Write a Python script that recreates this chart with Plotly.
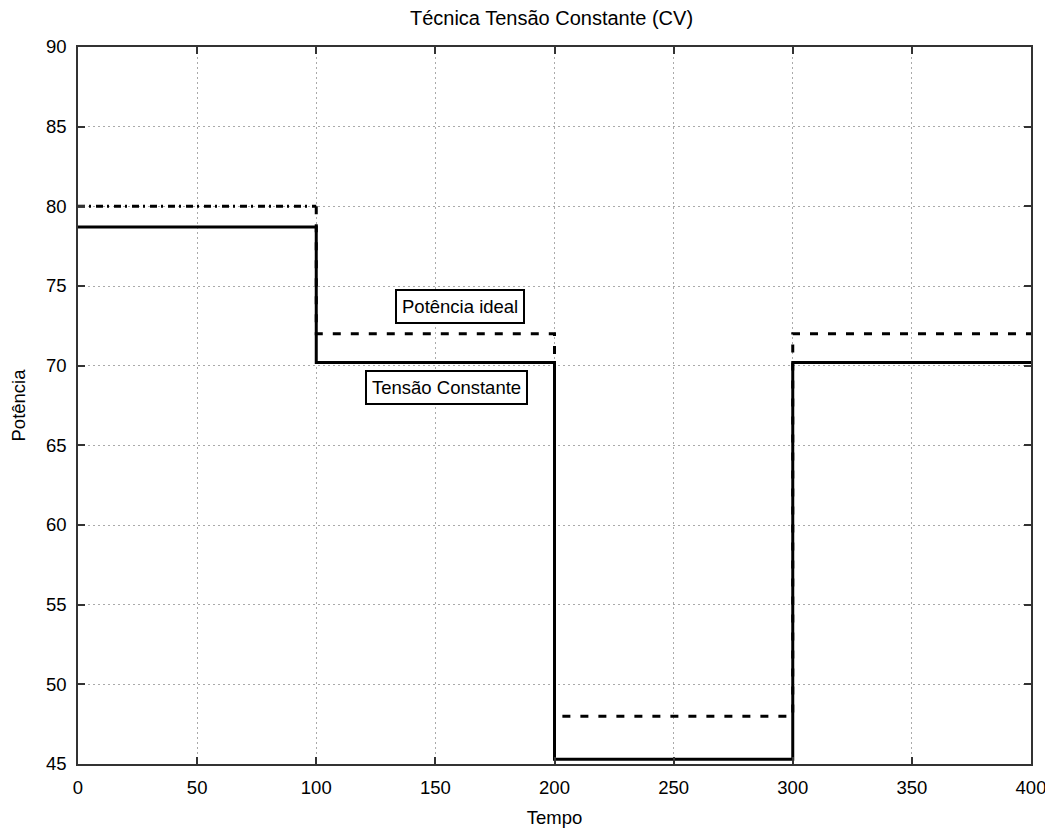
import plotly.graph_objects as go

tempo = [0, 100, 100, 200, 200, 300, 300, 400]
potencia_ideal = [80, 80, 72, 72, 48, 48, 72, 72]
tensao_constante = [78.7, 78.7, 70.2, 70.2, 45.3, 45.3, 70.2, 70.2]

x_ticks = [0, 50, 100, 150, 200, 250, 300, 350, 400]
y_ticks = [45, 50, 55, 60, 65, 70, 75, 80, 85, 90]

W, H = 1045, 822
OFF = 8  # page body offset

fig = go.Figure()
# first segment of the ideal curve rendered dash-dot, as in the reference
fig.add_trace(go.Scatter(x=tempo[:2], y=potencia_ideal[:2], mode="lines",
                         line=dict(color="black", width=3, dash="7px,4px,2px,5px"),
                         name="Potência ideal", showlegend=False))
fig.add_trace(go.Scatter(x=tempo[1:], y=potencia_ideal[1:], mode="lines",
                         line=dict(color="black", width=3, dash="8px,10px"),
                         name="Potência ideal", showlegend=False))
fig.add_trace(go.Scatter(x=tempo, y=tensao_constante, mode="lines",
                         line=dict(color="black", width=3),
                         name="Tensão Constante", showlegend=False))

fam = "Liberation Sans, Arial, sans-serif"
font = dict(family=fam, size=18.5, color="black")

fig.add_annotation(x=160.3, y=73.7, text="Potência ideal", showarrow=False,
                   bordercolor="black", borderwidth=2, borderpad=5, bgcolor="white",
                   font=font)
fig.add_annotation(x=154.5, y=68.6, text="Tensão Constante", showarrow=False,
                   bordercolor="black", borderwidth=2, borderpad=5, bgcolor="white",
                   font=font)

axis_common = dict(showline=True, linecolor="#333", linewidth=1.5, mirror="ticks",
                   ticks="inside", ticklen=7, tickcolor="#333", tickwidth=1.5,
                   showgrid=True, gridcolor="#aaa", gridwidth=1.2, griddash="2px,3px",
                   zeroline=False, tickfont=font, automargin=False,
                   ticklabeloverflow="allow")

fig.update_xaxes(range=[0, 400], tickvals=x_ticks, ticklabelstandoff=6,
                 title=dict(text="Tempo", font=font, standoff=14), **axis_common)
fig.update_yaxes(range=[45, 90], tickvals=y_ticks, ticklabelstandoff=6,
                 title=dict(text="Potência", font=font, standoff=16), **axis_common)

fig.update_layout(
    width=W, height=H,
    title=dict(text="Técnica Tensão Constante (CV)", x=(551.5 - OFF) / W, xanchor="center",
               y=1 - (18 - OFF) / H, yanchor="middle", font=dict(family=fam, size=20, color="black")),
    plot_bgcolor="white", paper_bgcolor="white",
    margin=dict(l=78 - OFF, r=W - (1031 - OFF), t=47 - OFF, b=H - (764 - OFF)),
    font=font,
)

fig.write_html("out.html")
